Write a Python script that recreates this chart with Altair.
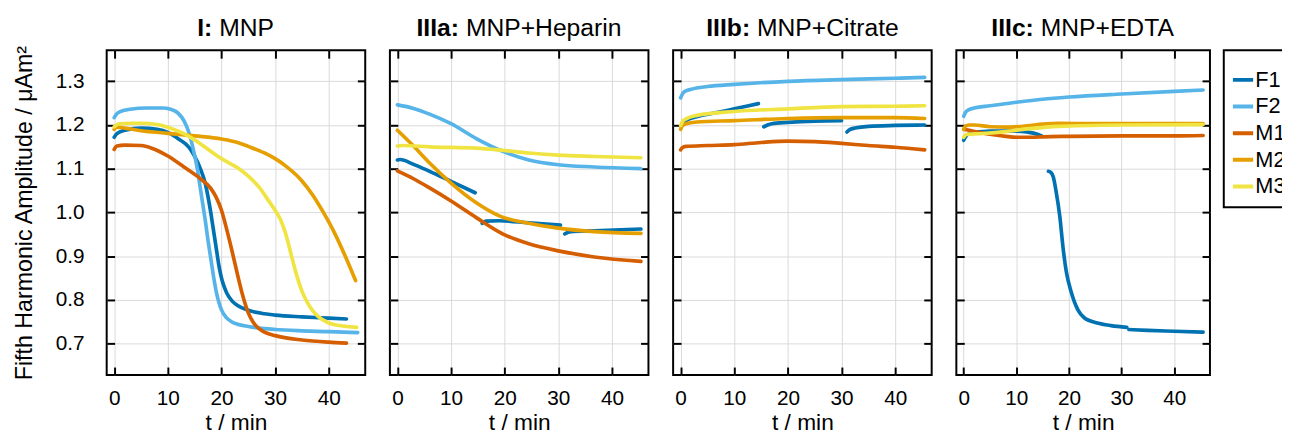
import altair as alt
import pandas as pd

FONT = "Liberation Sans, Arial, Helvetica, sans-serif"

series = ["F1", "F2", "M1", "M2", "M3"]
colors = ["#0072B2", "#56B4E9", "#D55E00", "#E69F00", "#F0E442"]

# ---------------- Panel I: MNP ----------------
I_F1_t = [0, 0.5, 2, 5, 8, 10, 12, 14, 15, 16, 17, 18, 18.5, 19, 19.5, 20, 20.5, 21, 22, 23, 25, 28, 30, 35, 40, 43.3]
I_F1_v = [1.172, 1.180, 1.188, 1.193, 1.190, 1.183, 1.168, 1.148, 1.128, 1.102, 1.065, 1.000, 0.960, 0.920, 0.880, 0.850, 0.830, 0.815, 0.797, 0.787, 0.776, 0.768, 0.765, 0.761, 0.758, 0.756]
I_F2_t = [0, 0.5, 1, 3, 6, 9, 10.5, 12, 13, 14, 15, 15.5, 16, 16.5, 17, 17.5, 18, 18.5, 19, 19.5, 20, 21, 22, 23, 25, 28, 30, 35, 40, 45.4]
I_F2_v = [1.217, 1.226, 1.230, 1.236, 1.239, 1.239, 1.236, 1.226, 1.210, 1.180, 1.130, 1.100, 1.060, 1.020, 0.980, 0.935, 0.895, 0.855, 0.820, 0.795, 0.777, 0.758, 0.749, 0.744, 0.739, 0.734, 0.732, 0.729, 0.727, 0.725]
I_M1_t = [0, 0.5, 2, 5, 7, 10, 13, 16, 18, 19, 20, 21, 22, 23, 24, 25, 26, 27, 28, 30, 35, 40, 43.3]
I_M1_v = [1.144, 1.152, 1.154, 1.153, 1.147, 1.129, 1.104, 1.078, 1.055, 1.035, 1.005, 0.960, 0.910, 0.857, 0.808, 0.770, 0.747, 0.734, 0.726, 0.718, 0.708, 0.703, 0.701]
I_M2_t = [0, 0.5, 2, 5, 10, 15, 20, 23, 25, 28, 30, 32, 34, 35, 37, 39, 41, 43, 45]
I_M2_v = [1.190, 1.195, 1.193, 1.187, 1.181, 1.175, 1.168, 1.160, 1.151, 1.136, 1.123, 1.106, 1.085, 1.072, 1.040, 1.000, 0.955, 0.902, 0.844]
I_M3_t = [0, 1, 3, 5, 8, 10, 13, 15, 18, 20, 23, 25, 27, 29, 30, 31, 32, 33, 34, 35, 36, 37, 38, 40, 42, 45.2]
I_M3_v = [1.196, 1.203, 1.204, 1.204, 1.201, 1.195, 1.180, 1.166, 1.140, 1.123, 1.102, 1.083, 1.058, 1.023, 1.005, 0.984, 0.950, 0.903, 0.857, 0.820, 0.794, 0.775, 0.762, 0.747, 0.741, 0.737]

# ---------------- Panel IIIa: MNP+Heparin ----------------
A_F1a_t = [0, 0.5, 3, 6, 10, 14.5]
A_F1a_v = [1.120, 1.121, 1.110, 1.094, 1.071, 1.045]
A_F1b_t = [15.8, 16.5, 19, 24.5, 30.4]
A_F1b_v = [0.975, 0.980, 0.981, 0.976, 0.971]
A_F1c_t = [31.2, 32.3, 36.7, 45.4]
A_F1c_v = [0.951, 0.956, 0.958, 0.962]
A_F2_t = [0, 3, 6, 10, 14.7, 19.6, 24.5, 30, 36.7, 45.4]
A_F2_v = [1.246, 1.238, 1.225, 1.203, 1.169, 1.140, 1.120, 1.109, 1.104, 1.100]
A_M1_t = [0, 3, 6, 10, 14.7, 19.6, 24.5, 30, 36.7, 45.4]
A_M1_v = [1.095, 1.077, 1.056, 1.026, 0.988, 0.951, 0.928, 0.912, 0.898, 0.888]
A_M2_t = [0, 3, 6, 10, 14.7, 19, 24.5, 30, 36.7, 45.4]
A_M2_v = [1.188, 1.152, 1.113, 1.067, 1.022, 0.992, 0.975, 0.964, 0.956, 0.952]
A_M3_t = [0, 1, 6, 14.7, 19.6, 24.5, 30, 36.7, 45.4]
A_M3_v = [1.152, 1.153, 1.150, 1.147, 1.142, 1.136, 1.131, 1.128, 1.125]

# ---------------- Panel IIIb: MNP+Citrate ----------------
B_F1a_t = [0, 0.5, 1, 3, 7, 10, 14.5]
B_F1a_v = [1.198, 1.205, 1.210, 1.219, 1.229, 1.237, 1.249]
B_F1b_t = [15.5, 16.2, 17, 20, 25, 30]
B_F1b_v = [1.196, 1.200, 1.203, 1.206, 1.209, 1.210]
B_F1c_t = [31, 31.6, 32.5, 35, 40, 45.5]
B_F1c_v = [1.184, 1.190, 1.193, 1.197, 1.199, 1.200]
B_F2_t = [0, 0.3, 0.8, 2, 5, 10, 20, 30, 40, 45.5]
B_F2_v = [1.262, 1.270, 1.277, 1.282, 1.288, 1.293, 1.300, 1.304, 1.307, 1.309]
B_M1_t = [0, 0.3, 1, 5, 10, 15, 20, 25, 30, 35, 40, 45.5]
B_M1_v = [1.143, 1.148, 1.151, 1.153, 1.155, 1.160, 1.163, 1.162, 1.158, 1.153, 1.149, 1.143]
B_M2_t = [0, 0.3, 1, 3, 10, 20, 30, 40, 45.5]
B_M2_v = [1.190, 1.198, 1.203, 1.207, 1.210, 1.215, 1.217, 1.217, 1.215]
B_M3_t = [0, 0.3, 1, 3, 10, 20, 30, 40, 45.5]
B_M3_v = [1.199, 1.207, 1.214, 1.222, 1.231, 1.237, 1.242, 1.243, 1.244]

# ---------------- Panel IIIc: MNP+EDTA ----------------
C_F1a_t = [0, 0.3, 1, 5, 10, 12, 14, 14.8]
C_F1a_v = [1.165, 1.172, 1.180, 1.186, 1.186, 1.184, 1.179, 1.175]
C_F1b_t = [16.1, 16.6, 17, 17.6, 18.25, 18.9, 19.5, 20.4, 21.7, 22.9, 25.4, 28, 31]
C_F1b_v = [1.094, 1.091, 1.082, 1.045, 0.992, 0.917, 0.864, 0.819, 0.777, 0.759, 0.747, 0.741, 0.737]
C_F1c_t = [31.4, 35, 40, 45.5]
C_F1c_v = [0.732, 0.730, 0.728, 0.726]
C_F2_t = [0, 0.3, 0.8, 2, 5, 10, 15, 20, 30, 40, 45.5]
C_F2_v = [1.220, 1.228, 1.234, 1.239, 1.244, 1.252, 1.259, 1.264, 1.271, 1.277, 1.280]
C_M1_t = [0, 0.5, 3, 6, 8, 10, 13, 15, 20, 30, 40, 45.5]
C_M1_v = [1.190, 1.189, 1.183, 1.177, 1.174, 1.172, 1.172, 1.173, 1.174, 1.175, 1.175, 1.176]
C_M2_t = [0, 0.3, 1, 2, 5, 8, 12, 15, 18, 25, 35, 45.5]
C_M2_v = [1.190, 1.197, 1.200, 1.200, 1.196, 1.195, 1.198, 1.202, 1.204, 1.203, 1.203, 1.203]
C_M3_t = [0, 0.3, 1, 3, 8, 12, 18, 30, 45.5]
C_M3_v = [1.172, 1.177, 1.179, 1.180, 1.185, 1.191, 1.197, 1.200, 1.201]

panels = [
    ("I", "I:", "MNP", [
        ("F1", "a", I_F1_t, I_F1_v), ("F2", "a", I_F2_t, I_F2_v), ("M1", "a", I_M1_t, I_M1_v),
        ("M2", "a", I_M2_t, I_M2_v), ("M3", "a", I_M3_t, I_M3_v)]),
    ("IIIa", "IIIa:", "MNP+Heparin", [
        ("F1", "a", A_F1a_t, A_F1a_v), ("F1", "b", A_F1b_t, A_F1b_v), ("F1", "c", A_F1c_t, A_F1c_v),
        ("F2", "a", A_F2_t, A_F2_v), ("M1", "a", A_M1_t, A_M1_v), ("M2", "a", A_M2_t, A_M2_v),
        ("M3", "a", A_M3_t, A_M3_v)]),
    ("IIIb", "IIIb:", "MNP+Citrate", [
        ("F1", "a", B_F1a_t, B_F1a_v), ("F1", "b", B_F1b_t, B_F1b_v), ("F1", "c", B_F1c_t, B_F1c_v),
        ("F2", "a", B_F2_t, B_F2_v), ("M1", "a", B_M1_t, B_M1_v), ("M2", "a", B_M2_t, B_M2_v),
        ("M3", "a", B_M3_t, B_M3_v)]),
    ("IIIc", "IIIc:", "MNP+EDTA", [
        ("F1", "a", C_F1a_t, C_F1a_v), ("F1", "b", C_F1b_t, C_F1b_v), ("F1", "c", C_F1c_t, C_F1c_v),
        ("F2", "a", C_F2_t, C_F2_v), ("M1", "a", C_M1_t, C_M1_v), ("M2", "a", C_M2_t, C_M2_v),
        ("M3", "a", C_M3_t, C_M3_v)]),
]

# title junction (x of the end of the bold part, px within panel)
title_junction = [107, 70, 78, 78.5]
panel_widths = [262, 262, 262, 257]

H = 329
TICK = 8
xscale = alt.Scale(domain=[-1.4, 46.8], nice=False, zero=False)
yscale = alt.Scale(domain=[0.628, 1.371], nice=False, zero=False)
cscale = alt.Scale(domain=series, range=colors)

legend = alt.Legend(
    title=" ", orient="right", offset=12, strokeColor="black", padding=7,
    titleFontSize=7, titlePadding=2.5, labelFontSize=22, labelFont=FONT,
    symbolType="stroke", symbolStrokeWidth=4, symbolSize=420, labelOffset=0,
    rowPadding=0, clipHeight=27,
)

charts = []
for i, (key, bold, normal, curves) in enumerate(panels):
    rows = []
    for s, seg, ts, vs in curves:
        for t, v in zip(ts, vs):
            rows.append({"series": s, "seg": s + seg, "t": t, "v": v})
    df = pd.DataFrame(rows)

    bottom_axis = alt.Axis(
        orient="bottom", values=[0, 10, 20, 30, 40], grid=True, domain=False,
        offset=-TICK, tickSize=TICK, labelPadding=13, title="t / min",
        titlePadding=3,
    )
    left_axis = alt.Axis(
        orient="left", values=[0.7, 0.8, 0.9, 1.0, 1.1, 1.2, 1.3], format=".1f", grid=True,
        domain=False, offset=-TICK, tickSize=TICK, labelPadding=23,
        labels=(i == 0), title=("Fifth Harmonic Amplitude / μAm²" if i == 0 else None),
        titlePadding=18.5, titleFontSize=23.5,
    )
    top_axis = alt.Axis(
        orient="top", values=[0, 10, 20, 30, 40], grid=False, domain=False,
        offset=-TICK, tickSize=TICK, labels=False, title=None,
    )
    right_axis = alt.Axis(
        orient="right", values=[0.7, 0.8, 0.9, 1.0, 1.1, 1.2, 1.3], grid=False, domain=False,
        offset=-TICK, tickSize=TICK, labels=False, title=None,
    )

    lines = alt.Chart(df).mark_line(
        strokeWidth=3.7, interpolate="monotone", strokeCap="round", strokeJoin="round"
    ).encode(
        x=alt.X("t:Q", scale=xscale, axis=bottom_axis),
        y=alt.Y("v:Q", scale=yscale, axis=left_axis),
        color=alt.Color("series:N", scale=cscale, legend=legend),
        detail="seg:N",
        order="t:Q",
    )
    mirror = alt.Chart(df).mark_point(opacity=0).encode(
        x=alt.X("t:Q", scale=xscale, axis=top_axis),
        y=alt.Y("v:Q", scale=yscale, axis=right_axis),
    )
    one = pd.DataFrame({"k": [0]})
    jx = title_junction[i]
    t_bold = alt.Chart(one).mark_text(
        text=bold, font=FONT, fontSize=25, fontWeight="bold", align="right",
        baseline="alphabetic", color="black",
    ).encode(x=alt.value(jx), y=alt.value(-14))
    t_norm = alt.Chart(one).mark_text(
        text=normal, font=FONT, fontSize=25, fontWeight="normal", align="left",
        baseline="alphabetic", color="black", dx=7,
    ).encode(x=alt.value(jx), y=alt.value(-14))

    layer = alt.layer(lines, mirror, t_bold, t_norm).resolve_axis(
        x="independent", y="independent"
    ).properties(width=panel_widths[i], height=H)
    charts.append(layer)

chart = alt.hconcat(*charts, spacing=21).properties(
    padding={"left": 4, "top": 5, "right": -12, "bottom": -3}
).configure_view(
    stroke="black", strokeWidth=2
).configure_axis(
    labelFont=FONT, titleFont=FONT, labelFontSize=21, titleFontSize=23,
    titleFontWeight="normal", labelColor="black", titleColor="black",
    tickColor="black", tickWidth=2, gridColor="#d9d9d9", gridWidth=1,
).configure_legend(
    strokeWidth=2
)

chart.save("out.html", embed_options={"renderer": "svg", "actions": False})
